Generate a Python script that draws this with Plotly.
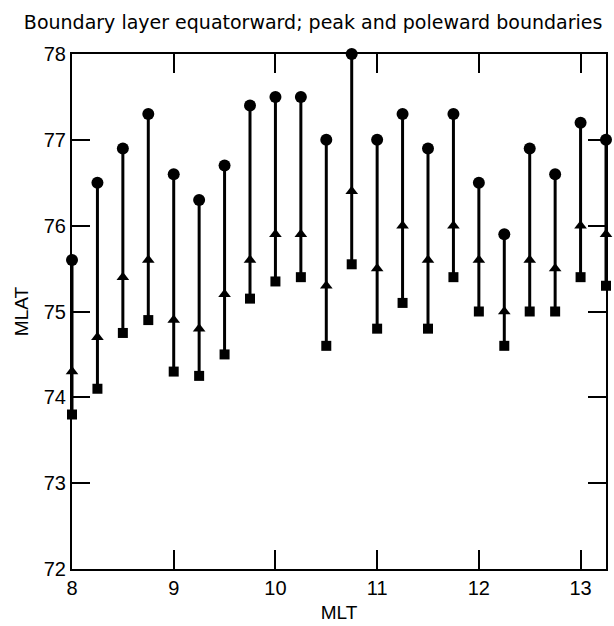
import plotly.graph_objects as go

# Magnetic local time (hours) of each pass bin
mlt = [8.0, 8.25, 8.5, 8.75, 9.0, 9.25, 9.5, 9.75, 10.0, 10.25, 10.5,
       10.75, 11.0, 11.25, 11.5, 11.75, 12.0, 12.25, 12.5, 12.75, 13.0, 13.25]

# Poleward boundary (circles)
poleward = [75.6, 76.5, 76.9, 77.3, 76.6, 76.3, 76.7, 77.4, 77.5, 77.5, 77.0,
            78.0, 77.0, 77.3, 76.9, 77.3, 76.5, 75.9, 76.9, 76.6, 77.2, 77.0]

# Peak (triangles)
peak = [74.3, 74.7, 75.4, 75.6, 74.9, 74.8, 75.2, 75.6, 75.9, 75.9, 75.3,
        76.4, 75.5, 76.0, 75.6, 76.0, 75.6, 75.0, 75.6, 75.5, 76.0, 75.9]

# Equatorward boundary (squares)
equatorward = [73.8, 74.1, 74.75, 74.9, 74.3, 74.25, 74.5, 75.15, 75.35, 75.4, 74.6,
               75.55, 74.8, 75.1, 74.8, 75.4, 75.0, 74.6, 75.0, 75.0, 75.4, 75.3]

x_ticks = [8, 9, 10, 11, 12, 13]
y_ticks = [72, 73, 74, 75, 76, 77, 78]

FONT = "Liberation Sans, Arial, sans-serif"
TITLE_FONT = "DejaVu Sans, Verdana, sans-serif"

# vertical bars joining equatorward and poleward boundaries
lx, ly = [], []
for x, lo, hi in zip(mlt, equatorward, poleward):
    lx += [x, x, None]
    ly += [lo, hi, None]

fig = go.Figure()
fig.add_trace(go.Scatter(x=lx, y=ly, mode="lines",
                         line=dict(color="black", width=3),
                         cliponaxis=False, hoverinfo="skip"))
fig.add_trace(go.Scatter(x=mlt, y=poleward, mode="markers", name="poleward",
                         marker=dict(symbol="circle", size=12, color="black"),
                         cliponaxis=False))
fig.add_trace(go.Scatter(x=mlt, y=peak, mode="markers", name="peak",
                         marker=dict(symbol="triangle-up", size=11, color="black"),
                         cliponaxis=False))
fig.add_trace(go.Scatter(x=mlt, y=equatorward, mode="markers", name="equatorward",
                         marker=dict(symbol="square", size=10, color="black"),
                         cliponaxis=False))

fig.update_layout(
    width=614, height=626,
    margin=dict(l=72, r=6, t=54, b=56),
    paper_bgcolor="white", plot_bgcolor="white",
    showlegend=False,
    font=dict(family=FONT, color="black", size=20),
    title=dict(text="Boundary layer equatorward; peak and poleward boundaries",
               x=0.51, xref="container", xanchor="center",
               y=1 - 22 / 626, yref="container", yanchor="middle",
               font=dict(size=19, family=TITLE_FONT, color="black")),
    xaxis=dict(range=[8, 13.25], tickvals=x_ticks, ticktext=[str(v) for v in x_ticks],
               showgrid=False, zeroline=False, showline=True, linecolor="black",
               linewidth=2, mirror="ticks", ticks="inside", ticklen=19,
               tickwidth=2, tickcolor="black", tickfont=dict(size=20),
               title=dict(text="MLT", font=dict(size=19), standoff=8)),
    yaxis=dict(range=[72, 78], tickvals=y_ticks, ticktext=[str(v) for v in y_ticks],
               showgrid=False, zeroline=False, showline=True, linecolor="black",
               linewidth=2, mirror="ticks", ticks="inside", ticklen=18,
               tickwidth=2, tickcolor="black", tickfont=dict(size=20),
               title=dict(text="MLAT", font=dict(size=19), standoff=10)),
)

fig.write_html("out.html")
